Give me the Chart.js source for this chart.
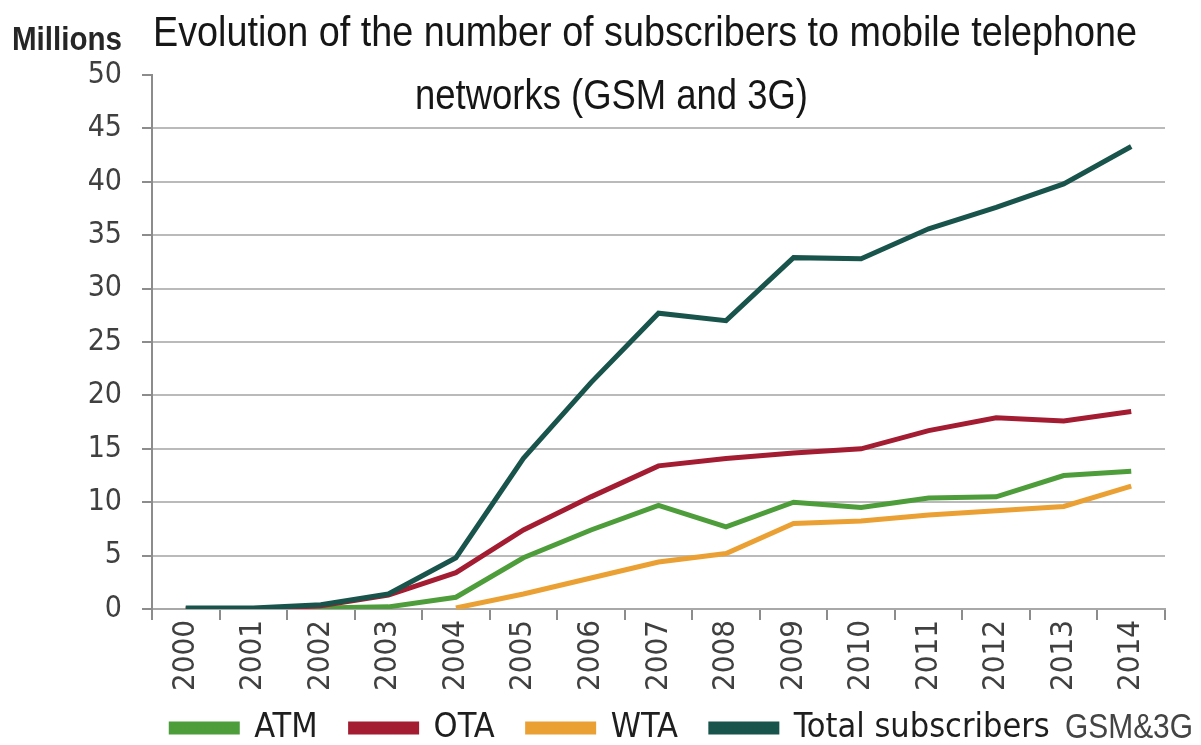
<!DOCTYPE html>
<html>
<head>
<meta charset="utf-8">
<script src="https://cdn.jsdelivr.net/npm/chart.js@4/dist/chart.umd.min.js"></script>
<style>
  html, body { margin: 0; padding: 0; background: #fff; }
  #wrap { width: 1201px; height: 745px; position: relative; }
</style>
</head>
<body>
<div id="wrap"><canvas id="c"></canvas></div>
<script>
// Years on the x axis
const years = ['2000', '2001', '2002', '2003', '2004', '2005', '2006', '2007',
               '2008', '2009', '2010', '2011', '2012', '2013', '2014'];

// Subscribers, millions
const atm   = [0.0, 0.0, 0.1, 0.2, 1.1, 4.8, 7.4, 9.7, 7.7, 10.0, 9.5, 10.4, 10.5, 12.5, 12.9];
const ota   = [0.0, 0.0, 0.3, 1.3, 3.4, 7.4, 10.5, 13.4, 14.1, 14.6, 15.0, 16.7, 17.9, 17.6, 18.5];
const wta   = [null, null, null, null, 0.1, 1.4, 2.9, 4.4, 5.2, 8.0, 8.25, 8.8, 9.2, 9.6, 11.5];
const total = [0.1, 0.1, 0.4, 1.4, 4.8, 14.1, 21.2, 27.7, 27.0, 32.9, 32.8, 35.6, 37.6, 39.8, 43.3];

const yTicks = [0, 5, 10, 15, 20, 25, 30, 35, 40, 45, 50];

const FONT = "'Liberation Sans Narrow', 'DejaVu Sans Condensed', sans-serif";
// Arial Narrow is basically Arial squeezed, so the free texts use Liberation Sans + fitText
const TEXT_FONT = "'Liberation Sans', Arial, sans-serif";

// draw text squeezed to a given width
function fitText(ctx, text, x, y, width) {
  const w = ctx.measureText(text).width;
  ctx.save();
  ctx.translate(x, y);
  ctx.scale(width / w, 1);
  ctx.fillText(text, 0, 0);
  ctx.restore();
}

// title, "Millions" unit label and the GSM&3G note
const annotations = {
  id: 'annotations',
  afterDraw(chart) {
    const ctx = chart.ctx;
    ctx.save();
    ctx.textBaseline = 'alphabetic';
    ctx.textAlign = 'left';
    ctx.fillStyle = '#262626';
    ctx.font = 'bold 34px ' + TEXT_FONT;
    fitText(ctx, 'Millions', 12, 50, 110);
    ctx.fillStyle = '#161616';
    ctx.font = '43px ' + TEXT_FONT;
    fitText(ctx, 'Evolution of the number of subscribers to mobile telephone', 153, 46, 984);
    fitText(ctx, 'networks (GSM and 3G)', 415, 109, 393);
    ctx.font = '35px ' + TEXT_FONT;
    ctx.fillStyle = '#444';
    fitText(ctx, 'GSM&3G', 1065, 738, 128);
    ctx.restore();
  }
};

const line = (label, data, color, order) => ({
  label, data, order,
  borderColor: color,
  backgroundColor: color,
  borderWidth: 5,
  pointRadius: 0,
  tension: 0,
  spanGaps: false,
});

new Chart(document.getElementById('c'), {
  type: 'line',
  data: {
    labels: years,
    datasets: [
      line('ATM', atm, '#4e9d3b', 2),
      line('OTA', ota, '#a31c31', 1),
      line('WTA', wta, '#eba033', 3),
      line('Total subscribers', total, '#18544b', 0),
    ],
  },
  options: {
    responsive: true,
    maintainAspectRatio: false,
    animation: false,
    layout: { padding: { top: 75, right: 36, bottom: -10, left: 56 } },
    plugins: {
      title: { display: false },
      tooltip: { enabled: false },
      legend: {
        position: 'bottom',
        labels: {
          color: '#1e1e1e',
          boxWidth: 66,
          boxHeight: 8,
          padding: 33,
          font: { family: FONT, size: 34 },
          sort: (a, b) => a.datasetIndex - b.datasetIndex,
        },
      },
    },
    scales: {
      x: {
        type: 'category',
        offset: true,
        afterFit: (s) => {
          s.height = 69;
          // rotated year labels run down past the legend top; don't clip them
          s._computeLabelArea = () => undefined;
        },
        grid: { offset: true, drawOnChartArea: false, drawTicks: true, tickLength: 11, color: '#8c8c8c', lineWidth: 2 },
        border: { display: true, color: '#a8a8a8', width: 2 },
        ticks: {
          color: '#404040',
          minRotation: 90, maxRotation: 90,
          padding: 0,
          font: { family: FONT, size: 31 },
        },
      },
      y: {
        min: 0, max: 50,
        afterFit: (s) => { s.width = 96; },
        afterBuildTicks: (s) => { s.ticks = yTicks.map(v => ({ value: v })); },
        grid: {
          color: (c) => (c.tick && c.tick.value === 50) ? 'rgba(0,0,0,0)' : '#bababa',
          lineWidth: 2,
          drawTicks: true,
          tickLength: 10,
          tickColor: '#8c8c8c',
        },
        border: { display: true, color: '#8c8c8c', width: 2 },
        ticks: {
          color: '#404040',
          padding: 20,
          font: { family: FONT, size: 30 },
        },
      },
    },
  },
  plugins: [annotations],
});
</script>
</body>
</html>
